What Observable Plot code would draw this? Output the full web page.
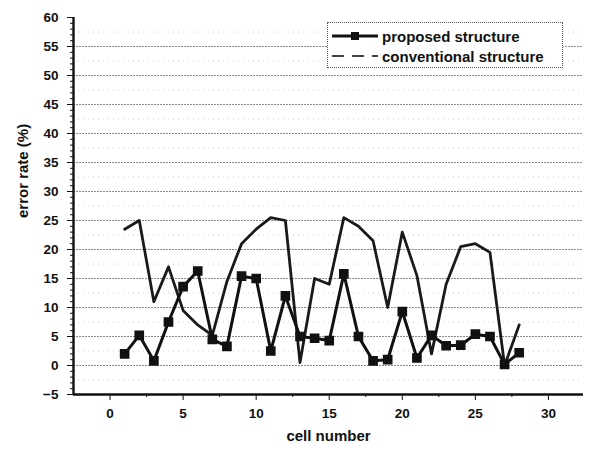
<!DOCTYPE html>
<html>
<head>
<meta charset="utf-8">
<script src="https://cdn.jsdelivr.net/npm/d3@7"></script>
<script src="https://cdn.jsdelivr.net/npm/@observablehq/plot@0.6"></script>
<style>
  html, body { margin: 0; padding: 0; background: #fff; }
  #wrap { position: relative; width: 598px; height: 455px; font-family: "Liberation Sans", Arial, sans-serif; }
  #legend { position: absolute; left: 327px; top: 22px; width: 236px; height: 46px; background: #fff;
            border: 1px dotted #555; box-sizing: border-box; font-size: 15px; font-weight: bold; color: #111; }
  .row { position: absolute; left: 4px; height: 18px; display: flex; align-items: center; white-space: nowrap; }
  .row svg { margin-right: 4px; }
</style>
</head>
<body>
<div id="wrap">
  <div id="chart"></div>
  <div id="legend">
    <div class="row" style="top:4px"><svg width="46" height="12"><line x1="0" y1="6" x2="46" y2="6" stroke="#111" stroke-width="3"/><rect x="19" y="2" width="8" height="8" fill="#111"/></svg>proposed structure</div>
    <div class="row" style="top:24px"><svg width="46" height="12"><line x1="0" y1="6" x2="46" y2="6" stroke="#444" stroke-width="2" stroke-dasharray="12,8"/></svg>conventional structure</div>
  </div>
</div>
<script>
const cells = [1,2,3,4,5,6,7,8,9,10,11,12,13,14,15,16,17,18,19,20,21,22,23,24,25,26,27,28];
const proposed = [2.0,5.2,0.8,7.5,13.6,16.3,4.5,3.3,15.4,15.0,2.5,12.0,5.0,4.7,4.3,15.8,5.0,0.8,1.0,9.3,1.3,5.2,3.4,3.5,5.4,5.0,0.2,2.2];
const conventional = [23.5,25.0,11.0,17.0,9.5,7.0,5.2,14.5,21.0,23.5,25.5,25.0,0.5,15.0,14.0,25.5,24.0,21.5,10.0,23.0,15.5,2.0,14.0,20.5,21.0,19.5,0.0,7.0];
const yTicks = [-5,0,5,10,15,20,25,30,35,40,45,50,55,60];
const xTicks = [0,5,10,15,20,25,30];

const propData = cells.map((c, i) => ({cell: c, value: proposed[i]}));
const convData = cells.map((c, i) => ({cell: c, value: conventional[i]}));
const majorGrid = yTicks.filter(v => v >= 0 && v < 60);
const minorGrid = yTicks.filter(v => v < 60).map(v => v + 2.5);
const xMinor = xTicks.map(v => v - 2.5).concat([32.5]).filter(v => v > -2.5 && v < 32.4);
const yMinor = d3.range(-5, 60.01, 1);

const plot = Plot.plot({
  width: 598,
  height: 455,
  marginLeft: 73,
  marginRight: 15,
  marginTop: 17,
  marginBottom: 61,
  style: {fontFamily: "Liberation Sans, Arial, sans-serif", fontSize: "13px", fontWeight: "bold", color: "#111", background: "#fff"},
  x: {domain: [-2.5, 32.4]},
  y: {domain: [-5, 60]},
  marks: [
    Plot.ruleY(minorGrid, {stroke: "#ccc", strokeWidth: 1, strokeDasharray: "1,4"}),
    Plot.ruleY(majorGrid, {stroke: "#888", strokeWidth: 1, strokeDasharray: "2,1"}),
    Plot.line(convData, {x: "cell", y: "value", stroke: "#1a1a1a", strokeWidth: 2.8}),
    Plot.line(propData, {x: "cell", y: "value", stroke: "#111", strokeWidth: 3}),
    Plot.dot(propData, {x: "cell", y: "value", symbol: "square", r: 4.6, fill: "#111", stroke: "#111"}),
    Plot.axisY({ticks: yTicks, tickSize: 6, tickPadding: 9, label: null, fontSize: 13.5, fontWeight: "bold"}),
    Plot.axisY({ticks: yMinor, tickSize: 3, tickFormat: () => "", label: null}),
    Plot.axisX({ticks: xTicks, tickSize: 6, tickPadding: 8, label: null, fontSize: 13.5, fontWeight: "bold"}),
    Plot.axisX({ticks: xMinor, tickSize: 3, tickFormat: () => "", label: null}),
    Plot.ruleX([-2.5], {stroke: "#111", strokeWidth: 2.4}),
    Plot.ruleY([-5], {stroke: "#111", strokeWidth: 2.4}),
    Plot.text(["cell number"], {frameAnchor: "bottom", dy: 46, fontSize: 15, fontWeight: "bold"}),
    Plot.text(["error rate (%)"], {frameAnchor: "left", rotate: -90, dx: -50, dy: 12, fontSize: 15, fontWeight: "bold"})
  ]
});
document.getElementById("chart").appendChild(plot);
</script>
</body>
</html>
